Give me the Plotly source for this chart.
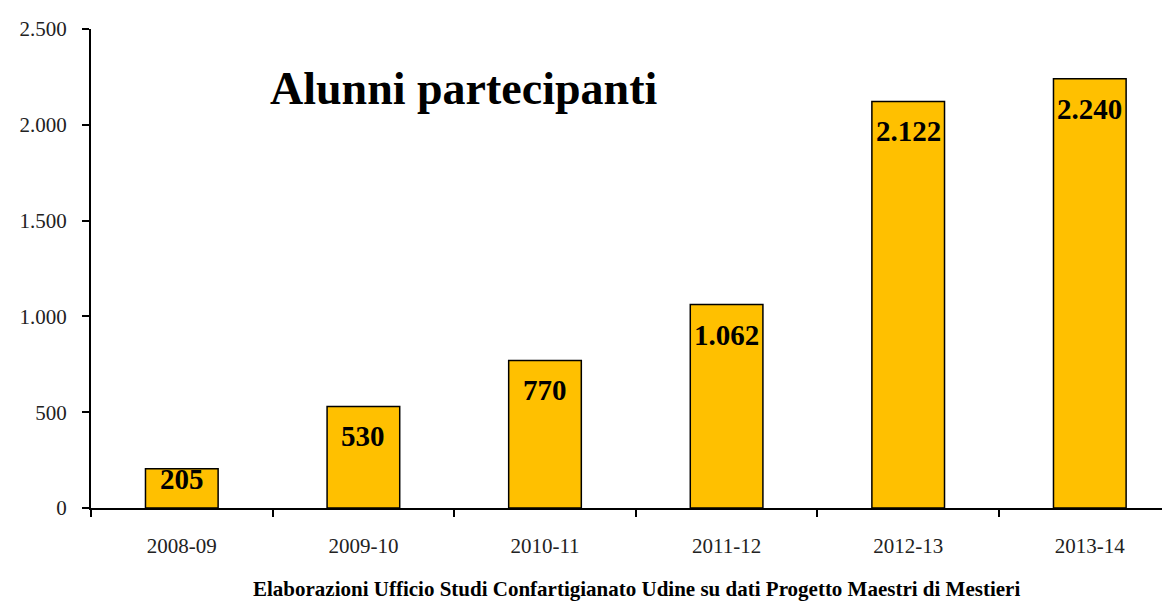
import plotly.graph_objects as go

categories = ["2008-09", "2009-10", "2010-11", "2011-12", "2012-13", "2013-14"]
values = [205, 530, 770, 1062, 2122, 2240]
y_ticks = [0, 500, 1000, 1500, 2000, 2500]
title_text = "Alunni partecipanti"
source_text = "Elaborazioni Ufficio Studi Confartigianato Udine su dati Progetto Maestri di Mestieri"

SERIF = "Liberation Serif, DejaVu Serif, serif"

# page body has an 8px margin, so figure coords = window coords - 8
OFF = 8
W, H = 1170 - OFF, 602 - OFF
L, T, B, R = 91 - OFF, 29 - OFF, H - (508 - OFF), 0
PLOT_H = H - T - B
Y_MAX = 2500

fig = go.Figure(go.Bar(
    x=categories, y=values,
    marker=dict(color="#FFC000", line=dict(color="black", width=1.5)),
    width=0.4,
    hoverinfo="skip",
))

# data labels, placed near the top inside each bar
for c, v in zip(categories, values):
    bar_px = v / Y_MAX * PLOT_H
    shift = -min(30, bar_px / 2 - 9)
    fig.add_annotation(x=c, y=v, xref="x", yref="y", text="<b>{:,}</b>".format(v).replace(",", "."),
                       showarrow=False, yanchor="middle", xanchor="center", yshift=shift,
                       font=dict(family=SERIF, size=29, color="black"))

fig.update_layout(
    width=W, height=H,
    margin=dict(l=L, r=R, t=T, b=B),
    paper_bgcolor="white", plot_bgcolor="white",
    separators=",.",
    showlegend=False,
    font=dict(family=SERIF, color="black"),
)
fig.update_yaxes(
    range=[0, Y_MAX], tickvals=y_ticks, tickformat=",d",
    showgrid=False, zeroline=False, automargin=False,
    showline=True, linecolor="black", linewidth=2,
    ticks="outside", ticklen=7, tickwidth=2, tickcolor="black",
    tickfont=dict(family=SERIF, size=21, color="#222"),
    ticklabelstandoff=11,
)
plot_w = W - L - R
fig.update_xaxes(
    type="category",
    range=[-0.5, -0.5 + plot_w / 181.6], automargin=False,
    showgrid=False, showline=True, linecolor="black", linewidth=2,
    ticks="outside", ticklen=7, tickwidth=2, tickcolor="black",
    tickson="boundaries",
    tickfont=dict(family=SERIF, size=21, color="#222"),
    ticklabelstandoff=18,
)
fig.add_annotation(text="<b>" + title_text + "</b>", xref="paper", yref="paper",
                   x=(463 - 91) / plot_w, y=(508 - 88) / PLOT_H, xanchor="center", yanchor="middle",
                   showarrow=False, font=dict(family=SERIF, size=46, color="black"))
fig.add_annotation(text="<b>" + source_text + "</b>", xref="paper", yref="paper",
                   x=(636 - 91) / plot_w, y=(508 - 589) / PLOT_H, xanchor="center", yanchor="middle",
                   showarrow=False, font=dict(family=SERIF, size=21, color="black"))

fig.write_html("out.html")
